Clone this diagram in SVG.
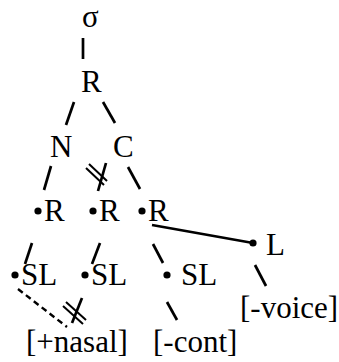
<svg xmlns="http://www.w3.org/2000/svg" width="339" height="362" viewBox="0 0 339 362">
<style>
text{font-family:"Liberation Serif",serif;font-size:31px;fill:#000}
.dot{fill:#000}
</style>
<rect width="339" height="362" fill="#fff"/>
<g id="connectors" stroke="#000" fill="none" stroke-width="2.7">
<line x1="83" y1="38" x2="83" y2="59"/>
<line x1="74" y1="102" x2="66" y2="125"/>
<line x1="103" y1="102" x2="115" y2="123"/>
<line x1="51" y1="166" x2="44" y2="190"/>
<line x1="106" y1="163" x2="98" y2="191"/>
<line x1="86" y1="168" x2="104" y2="185" stroke-width="2"/>
<line x1="89" y1="164" x2="107" y2="181" stroke-width="2"/>
<line x1="128" y1="167" x2="140" y2="189"/>
<line x1="152" y1="225" x2="253" y2="243"/>
<line x1="32" y1="243" x2="25" y2="264"/>
<line x1="100" y1="243" x2="92" y2="264"/>
<line x1="153" y1="244" x2="163" y2="263"/>
<line x1="255" y1="265" x2="266" y2="286"/>
<line x1="18" y1="289" x2="67" y2="327" stroke-width="2.4" stroke-dasharray="6,4"/>
<line x1="82" y1="298" x2="72" y2="323"/>
<line x1="63" y1="306" x2="83" y2="324" stroke-width="2"/>
<line x1="66" y1="302" x2="86" y2="320" stroke-width="2"/>
<line x1="167" y1="302" x2="177" y2="320"/>
</g>
<g id="sigma"><text x="82" y="27">σ</text></g>
<g id="R"><text x="81" y="92">R</text></g>
<g id="N"><text x="50" y="157">N</text></g>
<g id="C"><text x="113" y="157">C</text></g>
<g id="R1"><circle class="dot" cx="38" cy="211" r="3.6"/><text x="44" y="221">R</text></g>
<g id="R2"><circle class="dot" cx="93" cy="211" r="3.6"/><text x="99" y="221">R</text></g>
<g id="R3"><circle class="dot" cx="142" cy="211" r="3.6"/><text x="148" y="221">R</text></g>
<g id="L"><circle class="dot" cx="253" cy="243" r="3.6"/><text x="266" y="255">L</text></g>
<g id="SL1"><circle class="dot" cx="15" cy="275" r="3.6"/><text x="21" y="285">SL</text></g>
<g id="SL2"><circle class="dot" cx="85" cy="275" r="3.6"/><text x="91" y="285">SL</text></g>
<g id="SL3"><circle class="dot" cx="167" cy="275" r="3.6"/><text x="181" y="285">SL</text></g>
<g id="voice"><text x="240" y="318">[-voice]</text></g>
<g id="nasal"><text x="26" y="352">[+nasal]</text></g>
<g id="cont"><text x="153" y="352">[-cont]</text></g>
</svg>
